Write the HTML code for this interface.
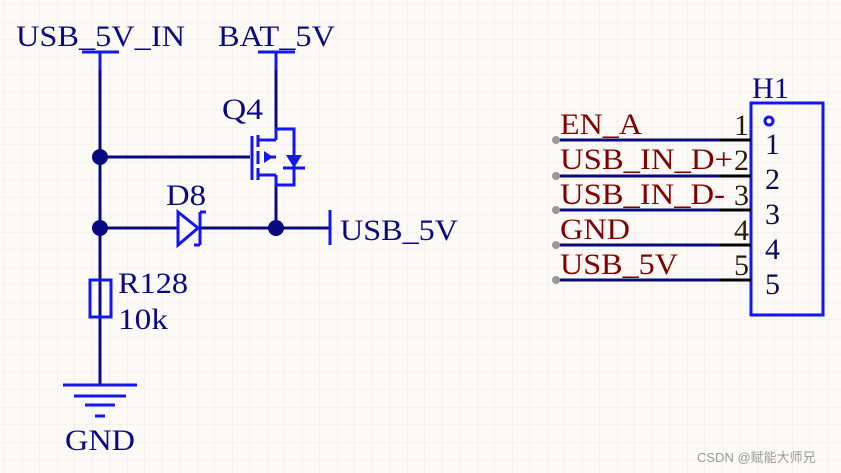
<!DOCTYPE html>
<html><head><meta charset="utf-8"><style>
html,body{margin:0;padding:0;background:#fcfaf6;}
svg{display:block}
text{font-family:"Liberation Serif",serif;font-size:30px;}
</style></head><body>
<svg width="841" height="473" xmlns="http://www.w3.org/2000/svg">
<defs><pattern id="g" width="17.5" height="17.5" patternUnits="userSpaceOnUse" x="5" y="5">
<path d="M17.5 0V17.5H0" fill="none" stroke="#eeebe3" stroke-width="1"/></pattern></defs>
<rect width="841" height="473" fill="url(#g)"/>
<g fill="#0a0a80">
<text x="16" y="46" textLength="169" lengthAdjust="spacingAndGlyphs">USB_5V_IN</text>
<text x="218" y="46" textLength="117" lengthAdjust="spacingAndGlyphs">BAT_5V</text>
<text x="222" y="119" textLength="41" lengthAdjust="spacingAndGlyphs">Q4</text>
<text x="166" y="205" textLength="40" lengthAdjust="spacingAndGlyphs">D8</text>
<text x="340" y="240" textLength="118" lengthAdjust="spacingAndGlyphs">USB_5V</text>
<text x="118" y="293" textLength="70" lengthAdjust="spacingAndGlyphs">R128</text>
<text x="118" y="329" textLength="50" lengthAdjust="spacingAndGlyphs">10k</text>
<text x="65" y="450" textLength="70" lengthAdjust="spacingAndGlyphs">GND</text>
<text x="752" y="98" textLength="37" lengthAdjust="spacingAndGlyphs">H1</text>
</g>
<g stroke="#0a0a80" stroke-width="3" fill="none">
<path d="M100 70V385M276 70V129M100 157H250M100 228H178M200 228H330M276 185V228"/>
</g>
<g fill="#0a0a80"><circle cx="100" cy="157" r="8"/><circle cx="100" cy="228" r="8"/><circle cx="276" cy="228" r="8"/></g>
<g stroke="#1515f0" stroke-width="3" fill="none">
<path d="M82 52H119M100 52V70M258 52H295M276 52V70"/>
<path d="M252 136V180M258 135V147M258 151V164M258 168V180M258 140H276M258 175H276M266 157H276M276 140V129H294V185H276V175"/>
<path d="M283 168H305"/>
<path d="M178 212L198 228L178 245ZM200 212V245M200 212H206M200 245H194"/>
<path d="M330 210V245"/>
<rect x="90" y="280" width="21" height="37"/>
<path d="M63 385H137M74 396H126M85 405H115M95 416H105"/>
<rect x="751" y="103" width="72" height="212"/>
<circle cx="769" cy="121" r="4"/>
</g>
<g fill="#1515f0"><path d="M264 151L273 157L264 163Z"/><path d="M286 155H302L294 168Z"/></g>
<g stroke-width="3">
<g stroke="#0a0a80"><path d="M556 140H720M556 176H720M556 210H720M556 245H720M556 280H720"/></g>
<g stroke="#000"><path d="M720 140H751M720 176H751M720 210H751M720 245H751M720 280H751"/></g>
</g>
<g fill="#999"><circle cx="556" cy="140" r="4"/><circle cx="556" cy="176" r="4"/><circle cx="556" cy="210" r="4"/><circle cx="556" cy="245" r="4"/><circle cx="556" cy="280" r="4"/></g>
<g fill="#800000">
<text x="560" y="134" textLength="82" lengthAdjust="spacingAndGlyphs">EN_A</text>
<text x="560" y="169" textLength="173" lengthAdjust="spacingAndGlyphs">USB_IN_D+</text>
<text x="560" y="204" textLength="165" lengthAdjust="spacingAndGlyphs">USB_IN_D-</text>
<text x="560" y="239" textLength="70" lengthAdjust="spacingAndGlyphs">GND</text>
<text x="560" y="274" textLength="118" lengthAdjust="spacingAndGlyphs">USB_5V</text>
</g>
<g fill="#2a1a0a" text-anchor="end">
<text x="749" y="135">1</text><text x="749" y="170">2</text><text x="749" y="205">3</text><text x="749" y="240">4</text><text x="749" y="275">5</text>
</g>
<g fill="#0a0a50">
<text x="765" y="154">1</text><text x="765" y="189">2</text><text x="765" y="224">3</text><text x="765" y="259">4</text><text x="765" y="294">5</text>
</g>
<text x="697" y="462" style="font-family:'Liberation Sans','Noto Sans CJK SC',sans-serif;font-size:13px" fill="#9a9a9a">CSDN @赋能大师兄</text>
</svg>
</body></html>
